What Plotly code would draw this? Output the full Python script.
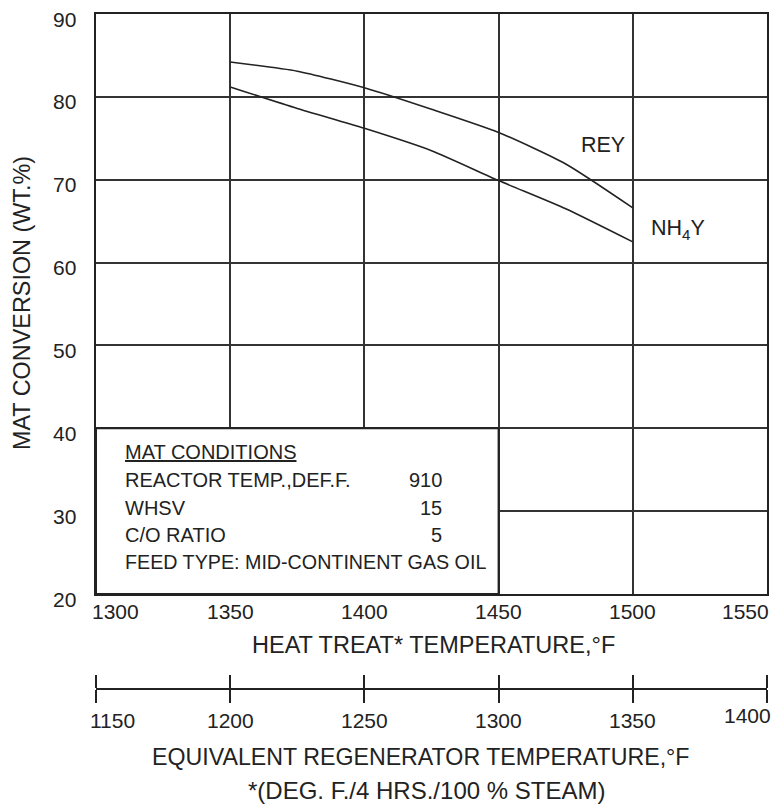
import plotly.graph_objects as go

# ---- data ----
heat_temp = [1350, 1375, 1400, 1425, 1450, 1475, 1500]
rey_conv = [84.2, 83.1, 81.1, 78.5, 75.7, 71.9, 66.6]
nh4y_conv = [81.2, 78.6, 76.2, 73.5, 69.9, 66.5, 62.5]

x_ticks = [1300, 1350, 1400, 1450, 1500, 1550]
y_ticks = [20, 30, 40, 50, 60, 70, 80, 90]
regen_ticks = [1150, 1200, 1250, 1300, 1350, 1400]

cond_labels = ["REACTOR TEMP.,DEF.F.", "WHSV", "C/O RATIO"]
cond_values = ["910", "15", "5"]
feed_text = "FEED TYPE: MID-CONTINENT GAS OIL"

FONT = "Liberation Sans, Arial, sans-serif"
INK = "#222222"
GRID = "#333333"

W, H = 776, 807
M_L, M_R, M_T, M_B = 96, 7, 14, 100
PH = H - M_T - M_B  # plotting area height in px


def py(pix):
    """pixel row -> paper fraction"""
    return (H - M_B - pix) / PH


def txt(size):
    return dict(size=size, family=FONT, color=INK)


fig = go.Figure()

for vals, name in [(rey_conv, "REY"), (nh4y_conv, "NH4Y")]:
    fig.add_trace(go.Scatter(
        x=heat_temp, y=vals, mode="lines", name=name,
        line=dict(color=INK, width=1.6, shape="spline", smoothing=0.6),
        showlegend=False, hoverinfo="skip", xaxis="x", yaxis="y"))

# invisible trace so that the secondary (regenerator) axis exists
fig.add_trace(go.Scatter(x=[regen_ticks[0], regen_ticks[-1]], y=[0.5, 0.5],
                         mode="markers", marker=dict(opacity=0),
                         showlegend=False, hoverinfo="skip",
                         xaxis="x2", yaxis="y2"))

main_bottom = py(594)
sec_line = py(689)

fig.update_layout(
    width=W, height=H,
    margin=dict(l=M_L, r=M_R, t=M_T, b=M_B),
    paper_bgcolor="white", plot_bgcolor="white",
    font=dict(family=FONT, color=INK, size=21),
    xaxis=dict(domain=[0, 1], range=[x_ticks[0], x_ticks[-1]], anchor="y",
               tickvals=x_ticks, showticklabels=False, ticks="",
               showgrid=True, gridcolor=GRID, gridwidth=2,
               showline=True, mirror=True, linecolor=INK, linewidth=2,
               zeroline=False, fixedrange=True),
    yaxis=dict(domain=[main_bottom, 1], range=[y_ticks[0], y_ticks[-1]],
               anchor="x", tickvals=y_ticks, ticks="", showticklabels=False,
               showgrid=True, gridcolor=GRID, gridwidth=2,
               showline=True, mirror=True, linecolor=INK, linewidth=2,
               zeroline=False, fixedrange=True),
    xaxis2=dict(domain=[0, 1], range=[regen_ticks[0], regen_ticks[-1]],
                anchor="y2", tickvals=regen_ticks, showticklabels=False,
                ticks="outside", ticklen=13, tickwidth=1.5, tickcolor=INK,
                showline=True, linecolor=INK, linewidth=1, mirror="ticks",
                showgrid=False, zeroline=False, fixedrange=True),
    yaxis2=dict(domain=[sec_line - 0.2 / PH, sec_line], range=[0, 1],
                anchor="x2", showline=False, showticklabels=False,
                showgrid=False, zeroline=False, ticks="", fixedrange=True),
)

# MAT conditions box (hides the grid inside it)
fig.add_shape(type="rect", xref="x", yref="y",
              x0=x_ticks[0], x1=1450, y0=y_ticks[0], y1=40,
              fillcolor="white", line=dict(color=INK, width=2), layer="above")

ann = []
# y tick labels
for v in y_ticks:
    ann.append(dict(x=0, xref="paper", y=v, yref="y", text=str(v),
                    showarrow=False, xanchor="right", yanchor="middle",
                    xshift=-18, yshift=-5, font=txt(21)))

# main x tick labels
for i, v in enumerate(x_ticks):
    a = dict(x=v, xref="x", y=py(611), yref="paper", text=str(v),
             showarrow=False, yanchor="middle", xanchor="center",
             font=txt(21))
    if i == 0:
        a.update(xanchor="left", xshift=-6)
    elif i == len(x_ticks) - 1:
        a.update(xanchor="right", xshift=4)
    ann.append(a)

# regenerator tick labels
for i, v in enumerate(regen_ticks):
    a = dict(x=v, xref="x2", y=py(720), yref="paper", text=str(v),
             showarrow=False, yanchor="middle", xanchor="center",
             font=txt(21))
    if i == 0:
        a.update(xanchor="left", xshift=-8)
    elif i == len(regen_ticks) - 1:
        a.update(xanchor="right", xshift=6, y=py(716))
    ann.append(a)

# axis titles
ann.append(dict(x=0.5, xref="paper", y=py(645), yref="paper", xshift=2,
                xanchor="center", yanchor="middle",
                text="HEAT TREAT* TEMPERATURE,°F", showarrow=False,
                font=txt(23.5)))
ann.append(dict(x=0.5, xref="paper", y=py(757), yref="paper", xshift=-11,
                xanchor="center", yanchor="middle",
                text="EQUIVALENT REGENERATOR TEMPERATURE,°F", showarrow=False,
                font=txt(23.2)))
ann.append(dict(x=0.5, xref="paper", y=py(790), yref="paper", xshift=-5,
                xanchor="center", yanchor="middle",
                text="*(DEG. F./4 HRS./100 % STEAM)", showarrow=False,
                font=txt(24)))
ann.append(dict(x=0, xref="paper", y=py(303), yref="paper", xshift=-74,
                text="MAT CONVERSION (WT.%)", textangle=-90, showarrow=False,
                xanchor="center", yanchor="middle", font=txt(23.4)))

# curve labels
ann.append(dict(x=1489, y=74.2, xref="x", yref="y", text="REY",
                xanchor="center", yanchor="middle",
                showarrow=False, font=txt(21.5)))
ann.append(dict(x=1506, y=64.0, xref="x", yref="y", text="NH<sub>4</sub>Y",
                xanchor="left", yanchor="middle", showarrow=False,
                font=txt(21.5)))

# conditions text
left_x, right_x = 1310, 1429.6
rows_y = [33.8, 30.4, 27.1]
ann.append(dict(x=left_x, y=37.1, xref="x", yref="y", xanchor="left",
                yanchor="middle", text="<u>MAT CONDITIONS</u>",
                showarrow=False, font=txt(20)))
for lab, val, yy in zip(cond_labels, cond_values, rows_y):
    ann.append(dict(x=left_x, y=yy, xref="x", yref="y", xanchor="left",
                    yanchor="middle", text=lab, showarrow=False,
                    font=txt(20)))
    ann.append(dict(x=right_x, y=yy, xref="x", yref="y", xanchor="right",
                    yanchor="middle", text=val, showarrow=False,
                    font=txt(20)))
ann.append(dict(x=left_x, y=23.9, xref="x", yref="y", xanchor="left",
                yanchor="middle", text=feed_text, showarrow=False,
                font=txt(19.7)))

fig.update_layout(annotations=ann)

fig.write_html("out.html",
               config={"displayModeBar": False},
               post_script="document.body.style.margin='0';"
                           "document.body.style.overflow='hidden';")
